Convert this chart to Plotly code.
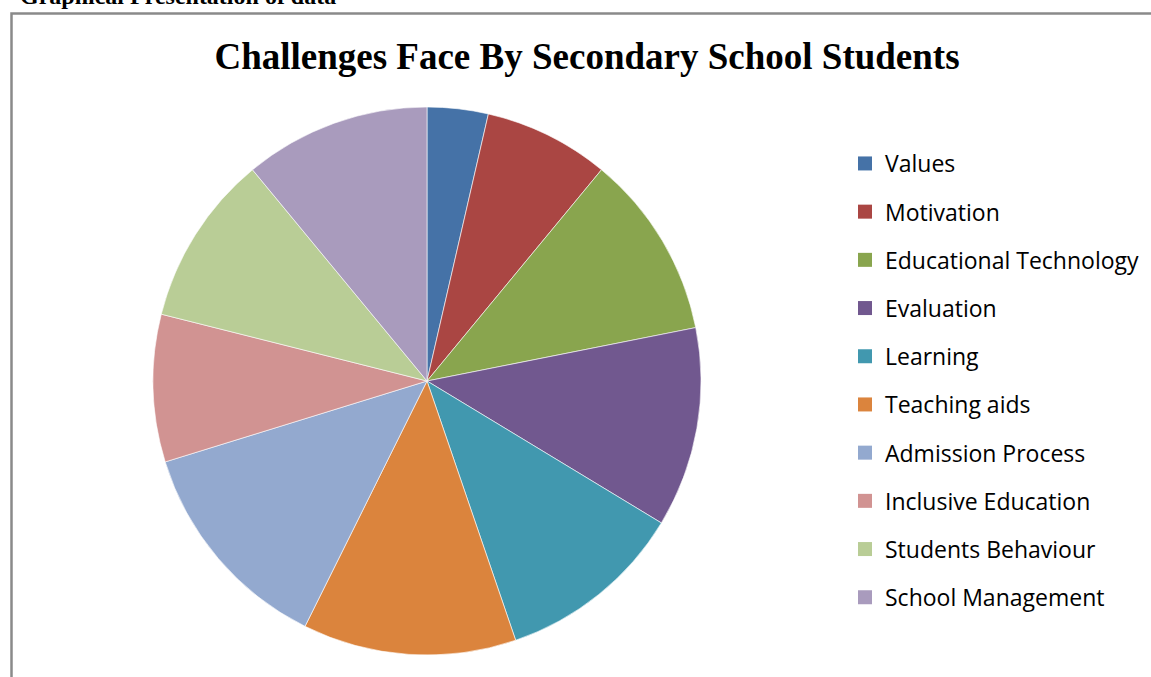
import plotly.graph_objects as go

categories = ["Values", "Motivation", "Educational Technology", "Evaluation", "Learning",
              "Teaching aids", "Admission Process", "Inclusive Education",
              "Students Behaviour", "School Management"]
values = [3.6, 7.4, 10.9, 11.8, 11.1, 12.6, 12.9, 8.7, 10.1, 11.0]
colors = ["#4572A7", "#AA4643", "#89A54E", "#71588F", "#4198AF",
          "#DB843D", "#93A9CF", "#D19392", "#B9CD96", "#A99BBD"]

W, H = 1151, 677

fig = go.Figure()
fig.add_trace(go.Pie(
    labels=categories, values=values, sort=False, direction="clockwise",
    rotation=0, textinfo="none", hoverinfo="label+value+percent",
    marker=dict(colors=colors, line=dict(color="white", width=0.6)),
    showlegend=False,
    domain=dict(x=[153 / W, 701 / W], y=[22 / H, 570 / H]),
))

# legend entries (one group each for Excel-like spacing)
for i, (c, col) in enumerate(zip(categories, colors)):
    fig.add_trace(go.Scatter(
        x=[None], y=[None], mode="markers", name=c, legendgroup=f"g{i}",
        marker=dict(symbol="square", size=14, color=col),
        showlegend=True, hoverinfo="skip",
    ))

fig.update_layout(
    width=W, height=H,
    margin=dict(l=0, r=0, t=0, b=0),
    paper_bgcolor="white", plot_bgcolor="white",
    xaxis=dict(visible=False), yaxis=dict(visible=False),
    title=dict(
        text="Challenges Face By Secondary School Students",
        x=587 / W, xanchor="center", y=1 - 56 / H, yanchor="middle",
        font=dict(family="Liberation Serif", size=37, color="black", weight="bold"),
    ),
    legend=dict(
        x=845 / W, xanchor="left", y=1 - 142 / H, yanchor="top",
        font=dict(family="Open Sans", size=23, color="black"),
        tracegroupgap=15.3, bgcolor="rgba(0,0,0,0)",
    ),
    shapes=[dict(
        type="rect", xref="paper", yref="paper",
        x0=11.5 / W, x1=1.05, y0=-0.05, y1=1 - 13.5 / H,
        line=dict(color="#8a8a8a", width=2.5), layer="below",
    )],
    annotations=[dict(
        text="Graphical Presentation of data", xref="paper", yref="paper",
        x=18 / W, xanchor="left", y=1 - 11 / H, yanchor="bottom",
        showarrow=False,
        font=dict(family="Liberation Serif", size=24, color="black", weight="bold"),
    )],
)

fig.write_html("out.html", config={"displayModeBar": False},
               post_script="document.body.style.margin='0';")
